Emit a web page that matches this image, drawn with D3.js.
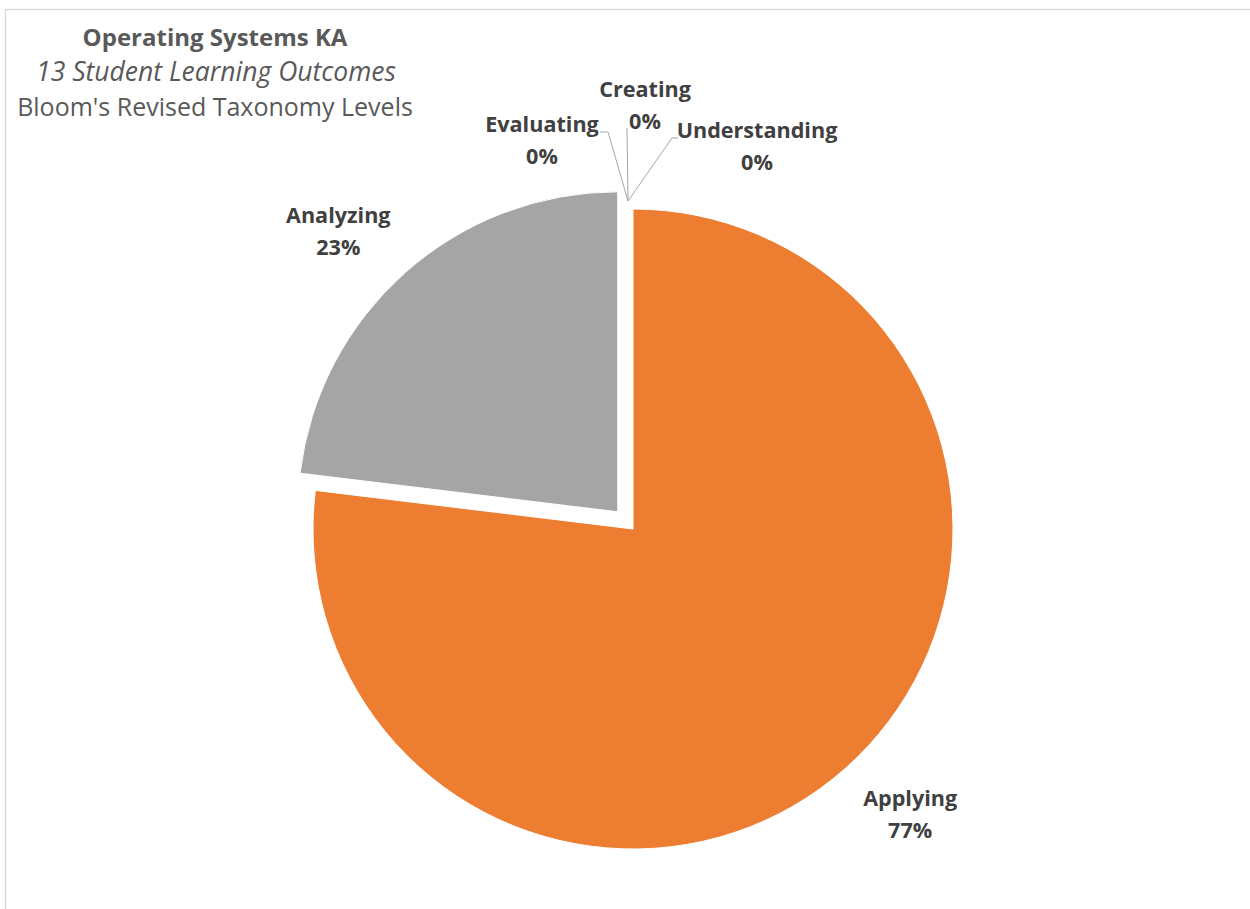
<!DOCTYPE html>
<html>
<head>
<meta charset="utf-8">
<script src="https://cdn.jsdelivr.net/npm/d3@7/dist/d3.min.js"></script>
<style>
  html, body { margin: 0; padding: 0; background: #fff; }
  svg { display: block; }
</style>
</head>
<body>
<div id="chart"></div>
<script>
// Bloom's revised taxonomy levels, in drawing order (clockwise from 12 o'clock)
const categories = ["Understanding", "Applying", "Analyzing", "Evaluating", "Creating"];
// Number of student learning outcomes at each level
const outcomeCounts = [0, 10, 3, 0, 0];
const sliceColors = ["#5B9BD5", "#ED7D31", "#A5A5A5", "#FFC000", "#4472C4"];
const titleLines = ["Operating Systems KA", "13 Student Learning Outcomes", "Bloom's Revised Taxonomy Levels"];

const W = 1250, H = 909;
const cx = 633, cy = 529, R = 320;
const explodeBy = 23;           // offset of the pulled-out slice
const explodedSlice = "Analyzing";

const svg = d3.select("#chart").append("svg")
  .attr("width", W).attr("height", H);

// chart area frame (top and left edges visible)
svg.append("path")
  .attr("d", `M5.5,${H} L5.5,9.5 L${W},9.5`)
  .attr("fill", "none")
  .attr("stroke", "#d9d9d9")
  .attr("stroke-width", 1.5);

const data = categories.map((c, i) => ({ category: c, value: outcomeCounts[i] }));
const total = d3.sum(outcomeCounts);
const pct = d3.format(".0%");

const pie = d3.pie().sort(null).value(d => d.value);
const arcs = pie(data);
const arc = d3.arc().innerRadius(0).outerRadius(R);

const color = d3.scaleOrdinal().domain(categories).range(sliceColors);

const offsetOf = a => {
  if (a.data.category !== explodedSlice) return [0, 0];
  const mid = (a.startAngle + a.endAngle) / 2;
  return [Math.sin(mid) * explodeBy, -Math.cos(mid) * explodeBy];
};

const g = svg.append("g").attr("transform", `translate(${cx},${cy})`);

g.selectAll("path.slice")
  .data(arcs.filter(a => a.value > 0))
  .join("path")
  .attr("class", "slice")
  .attr("transform", a => `translate(${offsetOf(a)})`)
  .attr("d", arc)
  .attr("fill", a => color(a.data.category))
  .attr("stroke", "#fff")
  .attr("stroke-width", 1);

// Label placement: slices with a value sit outside their own arc
// (radius factor plus a small nudge); zero-width slices share the
// 12 o'clock point and are tied to it by leader lines.
const labelLayout = {
  Applying:      { r: 1.245, nx: 13, ny: -12 },
  Analyzing:     { r: 1.237, nx: -17, ny: 16 },
  Evaluating:    { x: 542 - cx, y: 141 - cy, leader: [[608, 132], [600, 132]] },
  Creating:      { x: 645 - cx, y: 106 - cy, leader: [[627, 128]] },
  Understanding: { x: 757 - cx, y: 147 - cy, leader: [[672, 138], [678, 138]] }
};
const leaderOrigin = [628 - cx, 201 - cy];

const labelFont = "'Open Sans', Lato, sans-serif";

arcs.forEach(a => {
  const lay = labelLayout[a.data.category];
  let x, y;
  if (a.value > 0) {
    const mid = (a.startAngle + a.endAngle) / 2;
    const [ox, oy] = offsetOf(a);
    x = ox + Math.sin(mid) * R * lay.r + lay.nx;
    y = oy - Math.cos(mid) * R * lay.r + lay.ny;
  } else {
    x = lay.x; y = lay.y;
    const pts = [leaderOrigin].concat(lay.leader.map(p => [p[0] - cx, p[1] - cy]));
    g.append("path")
      .attr("d", d3.line()(pts))
      .attr("fill", "none")
      .attr("stroke", "#a6a6a6")
      .attr("stroke-width", 1);
  }
  // (x, y) is the middle of the two-line label block
  const t = g.append("text")
    .attr("x", x).attr("y", y - 9)
    .attr("text-anchor", "middle")
    .attr("font-family", labelFont)
    .attr("font-weight", "bold")
    .attr("font-size", 21.6)
    .attr("fill", "#404040");
  t.append("tspan").attr("x", x).text(a.data.category);
  t.append("tspan").attr("x", x).attr("dy", 32).text(pct(a.value / total));
});

// title block
const title = svg.append("g").attr("font-family", labelFont).attr("fill", "#595959").attr("text-anchor", "middle");
title.append("text").attr("x", 215).attr("y", 46)
  .attr("font-size", 24).attr("font-weight", "bold").text(titleLines[0]);
title.append("text").attr("x", 216).attr("y", 81)
  .attr("font-size", 26.5).attr("font-style", "italic").text(titleLines[1]);
title.append("text").attr("x", 215).attr("y", 116)
  .attr("font-size", 25).text(titleLines[2]);
</script>
</body>
</html>
